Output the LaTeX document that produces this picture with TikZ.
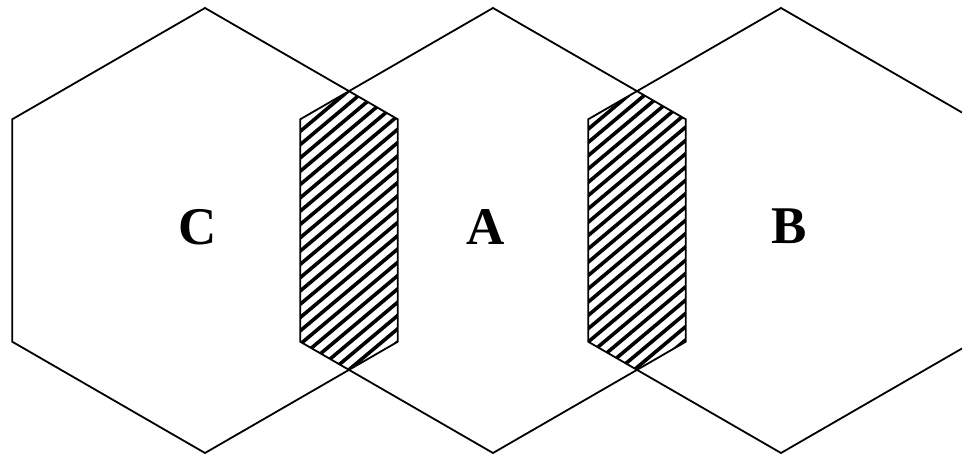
\documentclass[tikz,border=0pt]{standalone}
\usepackage{fontspec}
\setmainfont{Liberation Serif}
\usepackage{tikz}

% one pointy-topped cell round a centre
\newcommand{\hexpath}[1]{(#1) +(90:222.5) -- +(150:222.5) -- +(210:222.5)
  -- +(270:222.5) -- +(330:222.5) -- +(30:222.5) -- cycle}

\begin{document}
\begin{tikzpicture}[
    x=1pt, y=-1pt,
    cell/.style={draw=black, line width=1.8pt, line join=miter},
    hatch/.style={black, line width=3.6pt},
    celllabel/.style={font=\fontsize{53}{60}\selectfont\bfseries,
                      inner sep=0pt, anchor=center}
]
    \useasboundingbox (0,0) rectangle (962,454);
    \clip (0,0) rectangle (962,454);

    \coordinate (cellC) at (205,230.5);
    \coordinate (cellA) at (493,230.5);
    \coordinate (cellB) at (781,230.5);

    % overlap zones
    \foreach \one/\two in {cellC/cellA, cellA/cellB}{
      \begin{scope}
        \clip \hexpath{\one};
        \clip \hexpath{\two};
        \foreach \c in {330,343.3,...,965}
          \draw[hatch] (0,\c) -- (1000,\c-839);
      \end{scope}
    }

    \foreach \cell in {cellC, cellA, cellB}
      \draw[cell] \hexpath{\cell};

    \node[celllabel] (labelC) at (198,227.5) {C};
    \node[celllabel] (labelA) at (485.5,227) {A};
    \node[celllabel] (labelB) at (789.5,226.5) {B};
\end{tikzpicture}
\end{document}
